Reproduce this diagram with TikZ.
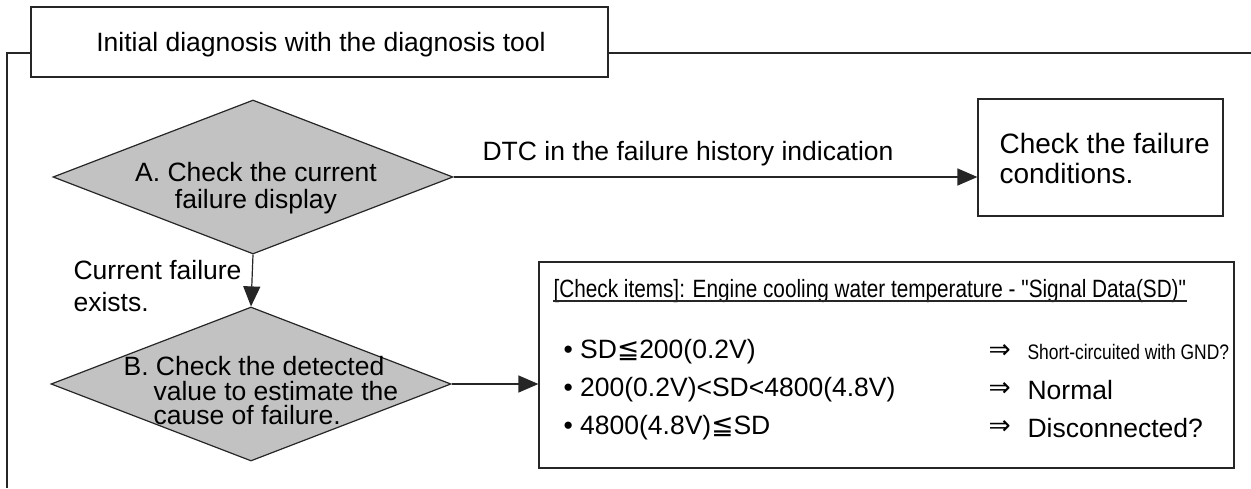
\documentclass[tikz,border=0pt]{standalone}
\usepackage{fontspec}
\setmainfont{Liberation Sans}
\newfontfamily\narrowfont[FakeStretch=0.83]{Liberation Sans}
\newfontfamily\symfont{DejaVu Sans}
\usetikzlibrary{arrows.meta,shapes.geometric}
\begin{document}
\begin{tikzpicture}[x=1pt,y=-1pt,line width=1.2pt,
  every node/.style={font=\fontsize{26.5}{28}\selectfont, inner sep=0pt},
  ln/.style={draw=black!85},
  arr/.style={draw=black!85,-{Triangle[length=20pt,width=17pt]}},
  dia/.style={diamond,draw=black!85,fill=black!24,minimum width=400pt,minimum height=154pt,inner sep=0pt},
  box/.style={rectangle,draw=black!85,fill=white,inner sep=0pt},
  narrow/.style={font=\narrowfont\fontsize{25}{27}\selectfont}]
\useasboundingbox (0,0) rectangle (1251,488);
\fill[white] (0,0) rectangle (1251,488);
% frame
\draw[ln] (7,488) -- (7,53) -- (31,53);
\draw[ln] (608,53) -- (1251,53);
% title
\node[box,minimum width=577pt,minimum height=70pt] (title) at (319.5,42) {};
\node (titletext) at (321,45) {Initial diagnosis with the diagnosis tool};
% diamond A
\node[dia] (A) at (253,177) {};
\node[align=center,font=\fontsize{26.5}{27}\selectfont] (Atext) at (256,188) {A. Check the current\\failure display};
% box C
\node[box,minimum width=245pt,minimum height=117pt] (C) at (1100.5,157.5) {};
\node[align=left,anchor=west,font=\fontsize{28}{30}\selectfont] (Ctext) at (999,158) {Check the failure\\conditions.};
\draw[arr] (A.east) -- (A.east -| C.west);
\node[anchor=west] (dtc) at (482,154) {DTC in the failure history indication};
% diamond B
\node[dia] (B) at (251,384) {};
\node[align=left,anchor=west,font=\fontsize{26.5}{24.5}\selectfont] (Btext) at (153,391) {\hspace*{-30pt}B. Check the detected\\value to estimate the\\cause of failure.};
\draw[arr] (A.south) -- (B.north);
\node[align=left,anchor=west,font=\fontsize{26.5}{32}\selectfont] (cf) at (73,286) {Current failure\\exists.};
% box D
\node[box,minimum width=695pt,minimum height=206pt] (D) at (886.5,365) {};
\draw[arr] (B.east) -- (B.east -| D.west);
\node[anchor=base west,narrow] (hdr) at (553,297) {[Check items]: Engine cooling water temperature - "Signal Data(SD)"};
\draw[draw=black!85,line width=1.1pt] ([yshift=-4pt]hdr.base west) -- ([yshift=-4pt]hdr.base east);
\node[anchor=west] (r1) at (563,352) {• SD{\symfont ≦}200(0.2V)};
\node[anchor=west] (r2) at (563,390) {• 200(0.2V)<SD<4800(4.8V)};
\node[anchor=west] (r3) at (563,428) {• 4800(4.8V){\symfont ≦}SD};
\node[anchor=west] (a1) at (988,352) {\symfont ⇒};
\node[anchor=west] (a2) at (988,390) {\symfont ⇒};
\node[anchor=west] (a3) at (988,428) {\symfont ⇒};
\node[anchor=west,font=\narrowfont\fontsize{21}{24}\selectfont] (t1) at (1027,352) {Short-circuited with GND?};
\node[anchor=west] (t2) at (1027,390) {Normal};
\node[anchor=west] (t3) at (1027,428) {Disconnected?};
\end{tikzpicture}
\end{document}
